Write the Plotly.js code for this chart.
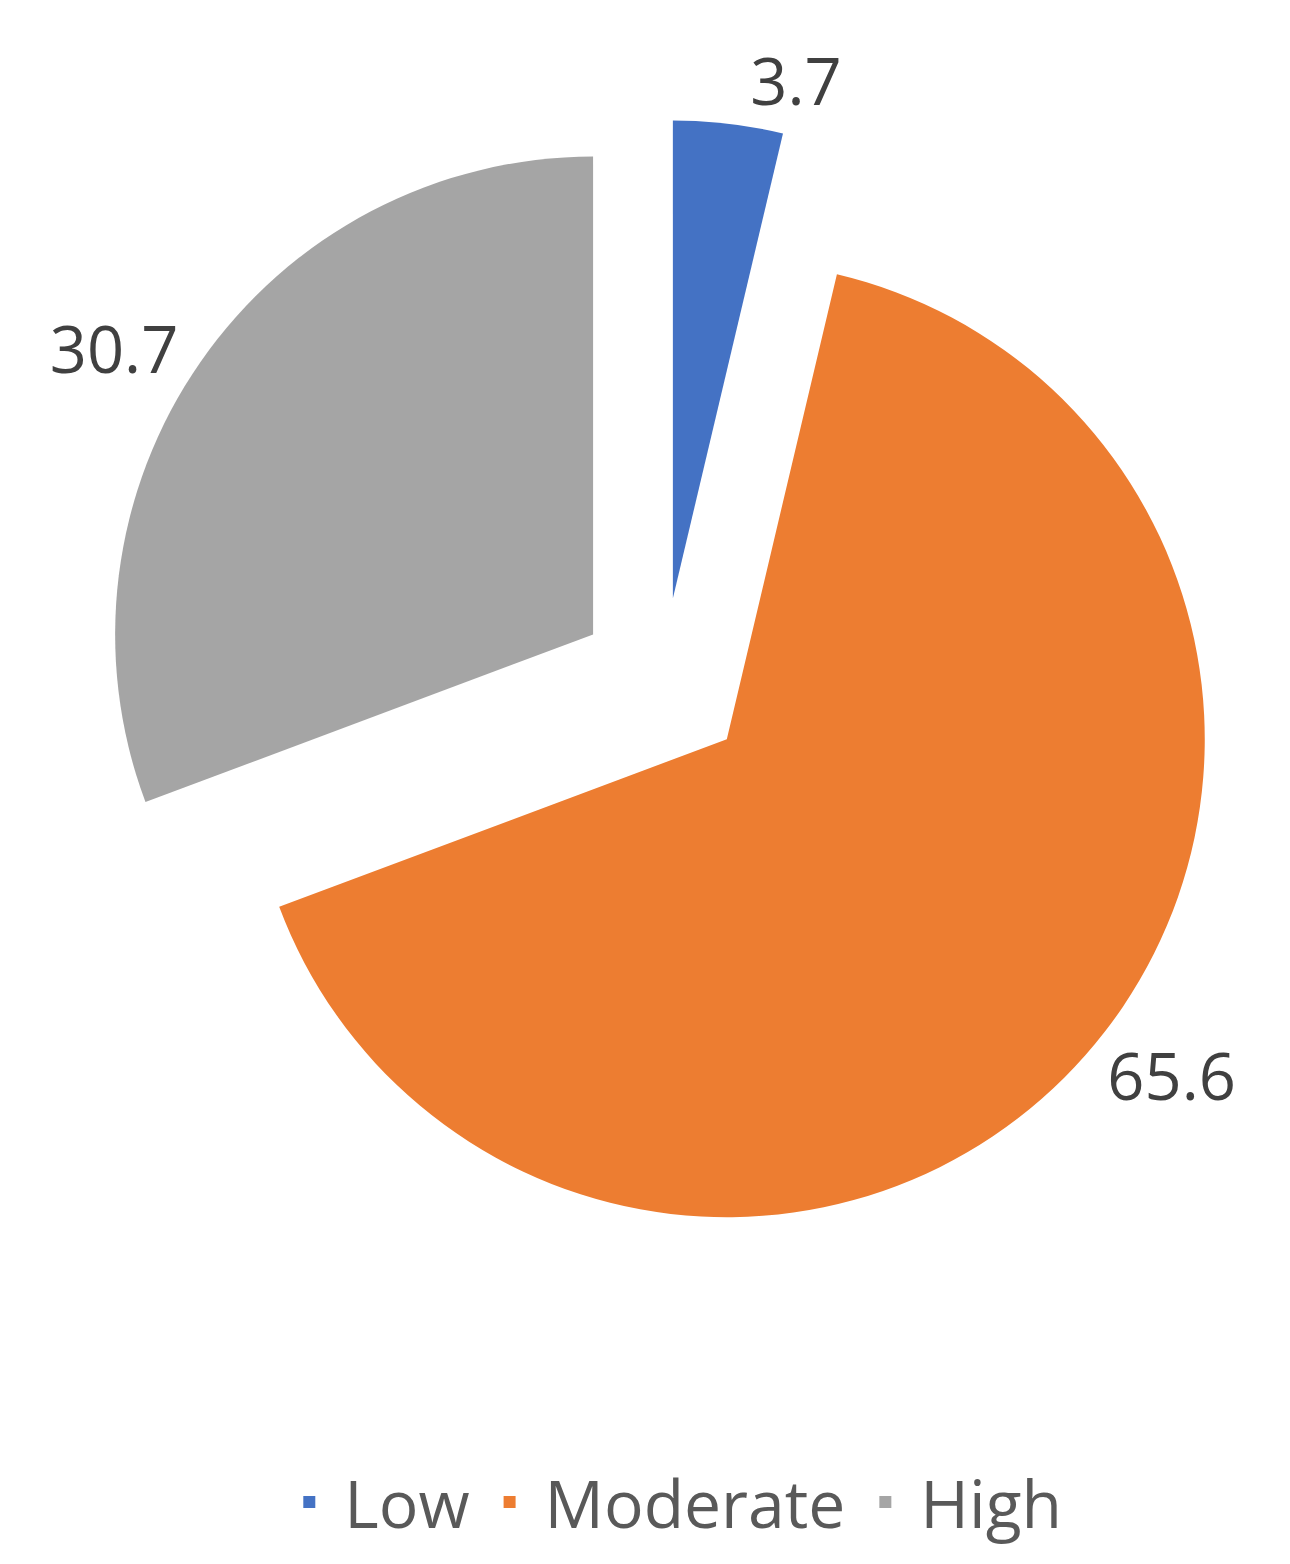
<!DOCTYPE html>
<html>
<head>
<meta charset="utf-8">
<script src="https://cdn.plot.ly/plotly-3.0.1.min.js"></script>
<style>
  html, body { margin: 0; padding: 0; background: #fff; }
  #chartDiv { width: 1290px; height: 1564px; }
</style>
</head>
<body>
<div id="chartDiv"></div>
<script>
// risk levels, share of respondents (%)
var levels = ['Low', 'Moderate', 'High'];
var shares = [3.7, 65.6, 30.7];
var sliceColors = ['#4472C4', '#ED7D31', '#A5A5A5'];
var pullOut = [0.178, 0.178, 0.178];

var trace1 = {
  type: 'pie',
  labels: levels,
  values: shares,
  sort: false,
  direction: 'clockwise',
  rotation: 0,
  pull: pullOut,
  textinfo: 'value',
  textposition: 'outside',
  automargin: false,
  outsidetextfont: { family: 'Open Sans, sans-serif', size: 65, color: '#404040' },
  marker: { colors: sliceColors, line: { width: 0 } },
  domain: { x: [0.0775, 0.9504], y: [0.2033, 0.9233] },
  hoverinfo: 'label+value'
};

// chart---------------------------------------------------------
var layout = {
  width: 1290,
  height: 1564,
  margin: { l: 0, r: 0, t: 0, b: 0 },
  showlegend: true,
  legend: {
    orientation: 'h',
    x: 0.52,
    xanchor: 'center',
    y: 0.008,
    yanchor: 'bottom',
    font: { family: 'Open Sans, sans-serif', size: 66, color: '#595959' },
    itemwidth: 60
  },
  paper_bgcolor: '#ffffff',
  plot_bgcolor: '#ffffff'
};

Plotly.newPlot('chartDiv', [trace1], layout, { displayModeBar: false });
</script>
</body>
</html>
